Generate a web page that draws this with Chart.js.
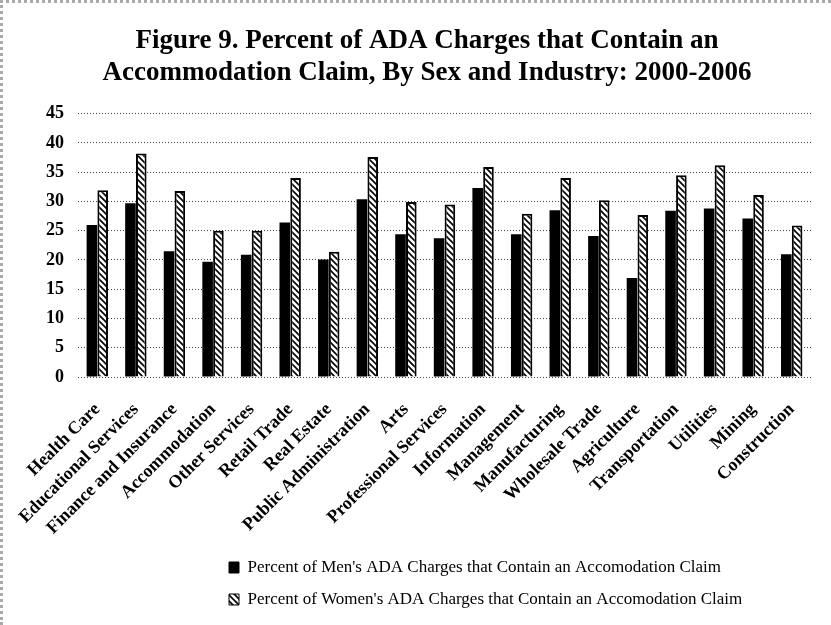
<!DOCTYPE html>
<html>
<head>
<meta charset="utf-8">
<script src="https://cdn.jsdelivr.net/npm/chart.js@4"></script>
<style>
  html, body { margin: 0; padding: 0; background: #fff; }
  #wrap {
    position: relative;
    width: 831px;
    height: 625px;
    box-sizing: border-box;
    border-left: 3px dotted #aaa;
    border-top: 3px dotted #aaa;
  }
  canvas { display: block; }
</style>
</head>
<body>
<div id="wrap"><canvas id="adaChart" width="828" height="622"></canvas></div>
<script>
const industries = [
    "Health Care", "Educational Services", "Finance and Insurance", "Accommodation",
    "Other Services", "Retail Trade", "Real Estate", "Public Administration", "Arts",
    "Professional Services", "Information", "Management", "Manufacturing",
    "Wholesale Trade", "Agriculture", "Transportation", "Utilities", "Mining", "Construction"
];
const mensPct = [26, 29.7, 21.5, 19.7, 20.9, 26.4, 20.1, 30.4, 24.4, 23.7, 32.3, 24.4, 28.5, 24.1, 16.9, 28.4, 28.8, 27.1, 21];
const womensPct = [31.9, 38.2, 31.8, 25, 25, 34, 21.4, 37.6, 29.9, 29.5, 35.9, 27.9, 34, 30.2, 27.7, 34.5, 36.2, 31.1, 25.9];
const yTicks = [0, 5, 10, 15, 20, 25, 30, 35, 40, 45];

const serif = "'Liberation Serif', 'Times New Roman', serif";
const legendLeft = 226;

function hatchPattern() {
    const c = document.createElement("canvas");
    c.width = 6;
    c.height = 6;
    const g = c.getContext("2d");
    g.fillStyle = "#fff";
    g.fillRect(0, 0, 6, 6);
    g.strokeStyle = "#000";
    g.lineWidth = 1.6;
    g.beginPath();
    g.moveTo(-1, -1); g.lineTo(7, 7);
    g.moveTo(-4, 2); g.lineTo(4, 10);
    g.moveTo(2, -4); g.lineTo(10, 4);
    g.stroke();
    return g.createPattern(c, "repeat");
}

const hatch = hatchPattern();

new Chart(document.getElementById("adaChart"), {
    type: "bar",
    data: {
        labels: industries,
        datasets: [{
            label: "Percent of Men's ADA Charges that Contain an Accomodation Claim",
            data: mensPct,
            backgroundColor: "#000",
            borderColor: "#000",
            borderWidth: 0
        }, {
            label: "Percent of Women's ADA Charges that Contain an Accomodation Claim",
            data: womensPct,
            backgroundColor: hatch,
            borderColor: "#000",
            borderWidth: 2
        }]
    },
    options: {
        responsive: false,
        animation: false,
        layout: { padding: { left: 40, right: 20, top: 0, bottom: 7 } },
        datasets: {
            bar: { categoryPercentage: 0.56, barPercentage: 0.98 }
        },
        plugins: {
            title: {
                display: true,
                text: ["Figure 9. Percent of ADA Charges that Contain an",
                       "Accommodation Claim, By Sex and Industry: 2000-2006"],
                color: "#000",
                font: { family: serif, size: 27, weight: "bold", lineHeight: 1.18 },
                padding: { top: 22, bottom: 25 }
            },
            legend: {
                position: "bottom",
                align: "start",
                labels: {
                    color: "#000",
                    font: { family: serif, size: 17 },
                    boxWidth: 10,
                    boxHeight: 11,
                    padding: 15,
                    generateLabels(chart) {
                        const items = Chart.defaults.plugins.legend.labels.generateLabels(chart);
                        items.forEach(it => { it.lineWidth = 1; });
                        return items;
                    }
                }
            },
            tooltip: { enabled: false }
        },
        scales: {
            x: {
                grid: { display: false },
                border: { display: false },
                ticks: {
                    color: "#000",
                    font: { family: serif, size: 18, weight: "bold" },
                    minRotation: 45,
                    maxRotation: 45,
                    autoSkip: false,
                    padding: 14
                },
                afterFit(scale) { scale.height = 167; }
            },
            y: {
                min: 0,
                max: 45,
                afterBuildTicks(scale) { scale.ticks = yTicks.map(v => ({ value: v })); },
                grid: {
                    color: "#444",
                    lineWidth: 1,
                    drawTicks: false
                },
                border: { display: false, dash: [1, 2] },
                ticks: {
                    color: "#000",
                    font: { family: serif, size: 18, weight: "bold" },
                    padding: 14
                },
                afterFit(scale) { scale.width = 35; }
            }
        }
    },
    plugins: [{
        id: "legendOffset",
        afterLayout(chart) {
            const pad = chart.options.plugins.legend.labels.padding;
            chart.legend.left = legendLeft - pad;
        }
    }]
});
</script>
</body>
</html>
